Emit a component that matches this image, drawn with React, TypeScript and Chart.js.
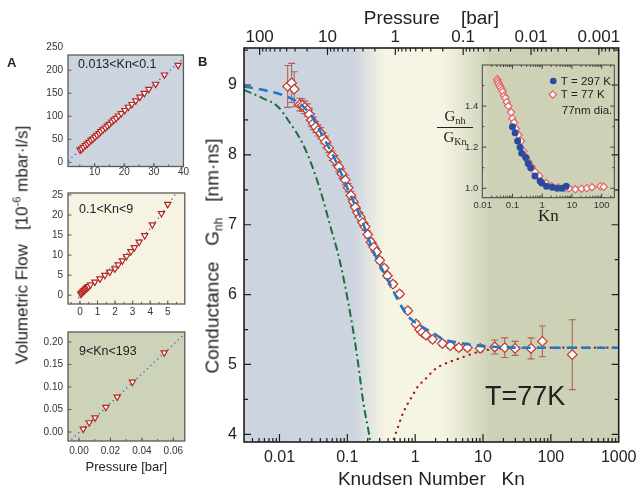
import React, { useEffect, useRef } from 'react';
import { Chart, registerables } from 'chart.js';

Chart.register(...registerables);

const SANS = '"Liberation Sans", Arial, Helvetica, sans-serif';
const SERIF = '"Liberation Serif", "Times New Roman", serif';
const INK = '#222222';

// ---------------- Panel B (main) ----------------
const knMeasured = [0.0132, 0.0151, 0.0165, 0.0200, 0.0218, 0.0235, 0.0258, 0.0275, 0.0295, 0.0315, 0.0340, 0.0370, 0.0404, 0.0440, 0.0478, 0.0530, 0.0597, 0.0660, 0.0747, 0.0830, 0.0935, 0.103, 0.113, 0.122, 0.131, 0.142, 0.155, 0.168, 0.183, 0.200, 0.223, 0.245, 0.270, 0.300, 0.350, 0.390, 0.470, 0.590, 0.780, 1.03, 1.16, 1.27, 1.44, 1.80, 2.52, 3.30, 4.40, 5.90, 9.10, 14.9, 20.9, 29.7, 51, 75, 207];
const gMeasured = [8.98, 9.03, 8.94, 8.72, 8.71, 8.68, 8.64, 8.58, 8.50, 8.45, 8.40, 8.35, 8.31, 8.24, 8.19, 8.10, 7.99, 7.92, 7.83, 7.73, 7.64, 7.53, 7.42, 7.33, 7.25, 7.17, 7.11, 7.03, 6.97, 6.86, 6.75, 6.68, 6.61, 6.49, 6.38, 6.27, 6.15, 6.01, 5.77, 5.58, 5.50, 5.46, 5.42, 5.36, 5.30, 5.27, 5.24, 5.24, 5.23, 5.25, 5.24, 5.23, 5.23, 5.33, 5.14];
const gError = [0.30, 0.28, 0.25, 0.09, 0.09, 0.09, 0.09, 0.09, 0.09, 0.09, 0.08, 0.08, 0.08, 0.08, 0.08, 0.07, 0.07, 0.07, 0.07, 0.07, 0.07, 0.06, 0.06, 0.06, 0.06, 0.06, 0.06, 0.05, 0.05, 0.05, 0.05, 0.05, 0.05, 0.04, 0.04, 0.04, 0.04, 0.04, 0.04, 0.04, 0.04, 0.04, 0.04, 0.04, 0.04, 0.04, 0.04, 0.04, 0.05, 0.10, 0.14, 0.10, 0.15, 0.22, 0.50];

const knFit = [0.003, 0.0064, 0.0125, 0.0195, 0.029, 0.0427, 0.067, 0.104, 0.164, 0.24, 0.40, 0.62, 0.82, 1.22, 1.9, 2.6, 4.4, 8.2, 16, 40, 100, 1000];
const gFit = [8.98, 8.92, 8.84, 8.74, 8.57, 8.28, 7.92, 7.49, 7.06, 6.63, 6.20, 5.84, 5.67, 5.55, 5.44, 5.36, 5.31, 5.27, 5.25, 5.24, 5.24, 5.24];

const knViscous = [0.003, 0.0057, 0.0095, 0.014, 0.022, 0.0306, 0.0427, 0.0565, 0.075, 0.104, 0.138, 0.173, 0.21, 0.22];
const gViscous = [8.93, 8.81, 8.69, 8.47, 8.16, 7.83, 7.40, 6.97, 6.54, 5.87, 5.15, 4.44, 3.99, 3.85];

const knMolecular = [0.45, 0.53, 0.66, 0.92, 1.09, 1.44, 2.0, 2.6, 4.6, 8.6, 14, 30, 100, 1000];
const gMolecular = [3.85, 4.04, 4.30, 4.56, 4.68, 4.80, 4.94, 5.00, 5.09, 5.18, 5.22, 5.235, 5.24, 5.24];

const KN_MIN = 0.003;
const KN_MAX = 1000;
const G_MIN = 3.89;
const G_MAX = 9.53;
const PRESSURE_TIMES_KN = 0.51;
const knTicks = [0.01, 0.1, 1, 10, 100, 1000];
const gTicks = [4, 5, 6, 7, 8, 9];
const pressureTicks = [100, 10, 1, 0.1, 0.01, 0.001];

// ---------------- Panel B inset ----------------
const knInset297 = [0.10, 0.123, 0.15, 0.18, 0.205, 0.28, 0.34, 0.41, 0.57, 0.85, 0.97, 1.4, 2.2, 3.2, 4.6, 6.4];
const ratioInset297 = [1.30, 1.27, 1.23, 1.20, 1.17, 1.15, 1.12, 1.10, 1.06, 1.035, 1.025, 1.01, 1.005, 1.0, 1.0, 1.01];
const knInset77 = [0.031, 0.032, 0.034, 0.037, 0.040, 0.044, 0.047, 0.052, 0.058, 0.064, 0.073, 0.090, 0.099, 0.113, 0.132, 0.158, 0.195, 0.233, 0.286, 0.34, 0.44, 0.57, 0.80, 1.35, 2.1, 3.5, 5.9, 8.0, 13, 21, 32, 47, 90, 117];
const ratioInset77 = [1.53, 1.52, 1.51, 1.50, 1.49, 1.48, 1.47, 1.45, 1.44, 1.42, 1.40, 1.37, 1.34, 1.32, 1.29, 1.26, 1.23, 1.18, 1.15, 1.13, 1.105, 1.08, 1.06, 1.025, 1.01, 1.005, 1.0, 1.0, 0.995, 0.998, 1.0, 1.005, 1.01, 1.007];
const INSET_KN_MIN = 0.0097;
const INSET_KN_MAX = 265;
const INSET_R_MIN = 0.954;
const INSET_R_MAX = 1.6;
const insetKnTicks = [0.01, 0.1, 1, 10, 100];
const insetRatioTicks = [1.0, 1.2, 1.4];
const insetRatioMinor = [1.1, 1.3, 1.5];
const insetLegend = ['T = 297 K', 'T = 77 K', '77nm dia.'];

// ---------------- Panel A ----------------
const pressureA1 = [5.1, 5.6, 6.2, 6.9, 7.5, 8.1, 8.8, 9.4, 10.1, 10.8, 11.5, 12.1, 12.8, 13.6, 14.3, 15.0, 15.8, 16.5, 17.3, 18.1, 19.0, 20.2, 21.4, 22.6, 23.9, 25.3, 26.8, 28.3, 30.6, 33.6, 38.2];
const flowA1 = [27, 29, 33, 37, 40, 44, 48, 51, 55, 59, 63, 67, 71, 75, 79, 83, 88, 92, 96, 101, 106, 113, 120, 126, 134, 142, 150, 159, 170, 190, 211];
const fitPressureA1 = [1, 41];
const fitFlowA1 = [3, 231];
const ticksXA1 = [10, 20, 30, 40];
const ticksYA1 = [0, 50, 100, 150, 200, 250];

const pressureA2 = [0.05, 0.1, 0.15, 0.2, 0.25, 0.3, 0.35, 0.4, 0.45, 0.5, 0.6, 0.85, 1.14, 1.42, 1.70, 1.99, 2.18, 2.42, 2.65, 2.90, 3.10, 3.37, 3.69, 4.12, 4.64, 5.0];
const flowA2 = [0.3, 0.5, 0.8, 1.0, 1.2, 1.4, 1.6, 1.8, 2.0, 2.2, 2.6, 3.3, 4.1, 5.0, 5.8, 6.6, 7.6, 8.6, 9.7, 10.9, 11.9, 13.3, 14.9, 17.6, 20.4, 22.7];
const fitPressureA2 = [-0.1, 1, 2, 3, 4, 5, 5.5];
const fitFlowA2 = [-0.7, 3.9, 7.7, 11.8, 16.6, 22.4, 25.6];
const ticksXA2 = [0, 1, 2, 3, 4, 5];
const ticksYA2 = [0, 5, 10, 15, 20, 25];

const pressureA3 = [0.0027, 0.0065, 0.0102, 0.0171, 0.0243, 0.034, 0.0542];
const flowA3 = [0.007, 0.021, 0.032, 0.055, 0.078, 0.111, 0.176];
const fitPressureA3 = [-0.007, 0.067];
const fitFlowA3 = [-0.024, 0.217];
const ticksXA3 = [0, 0.02, 0.04, 0.06];
const ticksYA3 = [0, 0.05, 0.1, 0.15, 0.2];

// ---------------- helpers ----------------
type Pt = { x: number; y: number };
const zip = (xs: number[], ys: number[]): Pt[] => xs.map((x, i) => ({ x, y: ys[i] }));

function logMinor(min: number, max: number): number[] {
  const out: number[] = [];
  for (let e = Math.floor(Math.log10(min)); e <= Math.ceil(Math.log10(max)); e++) {
    for (let m = 2; m <= 9; m++) {
      const v = m * Math.pow(10, e);
      if (v > min && v < max) out.push(v);
    }
  }
  return out;
}

function linMinor(min: number, max: number, step: number): number[] {
  const out: number[] = [];
  const start = Math.ceil(min / step);
  const end = Math.floor(max / step);
  for (let k = start; k <= end; k++) out.push(k * step);
  return out;
}

function fmtDecade(v: number): string {
  const e = Math.round(Math.log10(v));
  return e < 0 ? v.toFixed(-e) : String(Math.round(v));
}

type Side = 'left' | 'right' | 'top' | 'bottom';
interface TickSet { scale: string; side: Side; major: number[]; minor: number[]; majorLen: number; minorLen: number }

function framePlugin(sets: TickSet[], color: string, frameWidth: number, tickWidth: number) {
  return {
    id: 'frameTicks',
    afterDraw(chart: any) {
      const { ctx, chartArea: a } = chart;
      ctx.save();
      ctx.strokeStyle = color;
      ctx.lineWidth = tickWidth;
      ctx.beginPath();
      for (const s of sets) {
        const sc = chart.scales[s.scale];
        const put = (v: number, len: number) => {
          const p = sc.getPixelForValue(v);
          if (s.side === 'left' || s.side === 'right') {
            if (p <= a.top + 1 || p >= a.bottom - 1) return;
            const x0 = s.side === 'left' ? a.left : a.right;
            const d = s.side === 'left' ? len : -len;
            ctx.moveTo(x0, p);
            ctx.lineTo(x0 + d, p);
          } else {
            if (p <= a.left + 1 || p >= a.right - 1) return;
            const y0 = s.side === 'top' ? a.top : a.bottom;
            const d = s.side === 'top' ? len : -len;
            ctx.moveTo(p, y0);
            ctx.lineTo(p, y0 + d);
          }
        };
        s.minor.forEach((v) => put(v, s.minorLen));
        s.major.forEach((v) => put(v, s.majorLen));
      }
      ctx.stroke();
      ctx.lineWidth = frameWidth;
      ctx.strokeRect(a.left, a.top, a.right - a.left, a.bottom - a.top);
      ctx.restore();
    },
  };
}

function solidBg(color: string) {
  return {
    id: 'bg',
    beforeDraw(chart: any) {
      const { ctx, chartArea: a } = chart;
      ctx.save();
      ctx.fillStyle = color;
      ctx.fillRect(a.left, a.top, a.right - a.left, a.bottom - a.top);
      ctx.restore();
    },
  };
}

interface TextItem { text: string; dx: number; dy: number; font: string; color: string; baseline?: string; align?: string }
function textPlugin(items: TextItem[]) {
  return {
    id: 'texts',
    afterDatasetsDraw(chart: any) {
      const { ctx, chartArea: a } = chart;
      ctx.save();
      for (const t of items) {
        ctx.font = t.font;
        ctx.fillStyle = t.color;
        ctx.textBaseline = t.baseline || 'middle';
        ctx.textAlign = t.align || 'left';
        ctx.fillText(t.text, a.left + t.dx, a.top + t.dy);
      }
      ctx.restore();
    },
  };
}

const noGrid = { display: false, drawTicks: false };
const noBorder = { display: false };
const baseOptions = {
  animation: false,
  responsive: false,
  devicePixelRatio: 1,
  events: [],
  plugins: { legend: { display: false }, tooltip: { enabled: false } },
};

// ---------------- main chart ----------------
function mainConfig(): any {
  const pMin = PRESSURE_TIMES_KN / KN_MAX;
  const pMax = PRESSURE_TIMES_KN / KN_MIN;
  const bg = {
    id: 'bgGradient',
    beforeDraw(chart: any) {
      const { ctx, chartArea: a } = chart;
      const xs = chart.scales.x;
      const w = a.right - a.left;
      const f = (kn: number) => Math.min(1, Math.max(0, (xs.getPixelForValue(kn) - a.left) / w));
      const g = ctx.createLinearGradient(a.left, 0, a.right, 0);
      g.addColorStop(0, 'rgb(204,212,224)');
      g.addColorStop(f(0.12), 'rgb(204,212,224)');
      g.addColorStop(f(0.36), 'rgb(246,244,227)');
      g.addColorStop(f(2.5), 'rgb(246,244,227)');
      g.addColorStop(f(13), 'rgb(205,210,183)');
      g.addColorStop(1, 'rgb(205,210,183)');
      ctx.save();
      ctx.fillStyle = g;
      ctx.fillRect(a.left, a.top, w, a.bottom - a.top);
      ctx.restore();
    },
  };
  const errorBars = {
    id: 'errorBars',
    beforeDatasetDraw(chart: any, args: any) {
      if (args.index !== 1) return;
      const { ctx } = chart;
      const xs = chart.scales.x;
      const ys = chart.scales.y;
      ctx.save();
      ctx.strokeStyle = '#b4605a';
      ctx.lineWidth = 1.1;
      ctx.beginPath();
      knMeasured.forEach((k, i) => {
        const x = xs.getPixelForValue(k);
        const y1 = ys.getPixelForValue(gMeasured[i] + gError[i]);
        const y2 = ys.getPixelForValue(gMeasured[i] - gError[i]);
        ctx.moveTo(x, y1); ctx.lineTo(x, y2);
        ctx.moveTo(x - 3.5, y1); ctx.lineTo(x + 3.5, y1);
        ctx.moveTo(x - 3.5, y2); ctx.lineTo(x + 3.5, y2);
      });
      ctx.stroke();
      ctx.restore();
    },
  };
  return {
    type: 'scatter',
    data: {
      datasets: [
        { data: zip(knFit, gFit), showLine: true, borderColor: '#1f78c8', borderWidth: 2.6, borderDash: [9, 6], pointRadius: 0, cubicInterpolationMode: 'monotone' },
        { data: zip(knMeasured, gMeasured), showLine: false, pointStyle: 'rectRot', pointRadius: 4.8, pointBackgroundColor: '#ffffff', pointBorderColor: '#c0392b', pointBorderWidth: 1.2 },
        { data: zip(knMolecular, gMolecular), showLine: true, borderColor: '#9e1b1b', borderWidth: 2.2, borderDash: [0.3, 6], borderCapStyle: 'round', pointRadius: 0, cubicInterpolationMode: 'monotone' },
        { data: zip(knViscous, gViscous), showLine: true, borderColor: '#17703c', borderWidth: 2, borderDash: [8, 3.5, 2, 3.5], pointRadius: 0, cubicInterpolationMode: 'monotone' },
      ],
    },
    options: {
      ...baseOptions,
      layout: { padding: { left: 0, right: 19, top: 0, bottom: 0 } },
      scales: {
        x: {
          type: 'logarithmic', position: 'bottom', min: KN_MIN, max: KN_MAX,
          afterBuildTicks: (s: any) => { s.ticks = knTicks.map((value) => ({ value })); },
          afterFit: (s: any) => { s.height = 47; },
          grid: noGrid, border: noBorder,
          ticks: { callback: (v: number) => fmtDecade(v), font: { family: SANS, size: 16, lineHeight: 1 }, color: INK, padding: 7.5, autoSkip: false, maxRotation: 0 },
          title: { display: true, text: 'Knudsen Number   Kn', font: { family: SANS, size: 19, lineHeight: 1 }, color: INK, padding: { top: 0, bottom: 0 } },
        },
        xTop: {
          type: 'logarithmic', axis: 'x', position: 'top', reverse: true, min: pMin, max: pMax,
          afterBuildTicks: (s: any) => { s.ticks = pressureTicks.map((value) => ({ value })); },
          afterFit: (s: any) => { s.height = 48; },
          grid: noGrid, border: noBorder,
          ticks: { callback: (v: number) => fmtDecade(v), font: { family: SANS, size: 17, lineHeight: 1 }, color: INK, padding: 2, autoSkip: false, maxRotation: 0 },
          title: { display: true, text: 'Pressure    [bar]', font: { family: SANS, size: 19, lineHeight: 1 }, color: INK, padding: { top: 9.5, bottom: 0 } },
        },
        y: {
          type: 'linear', position: 'left', min: G_MIN, max: G_MAX,
          afterBuildTicks: (s: any) => { s.ticks = gTicks.map((value) => ({ value })); },
          afterFit: (s: any) => { s.width = 54; },
          grid: noGrid, border: noBorder,
          ticks: { callback: (v: number) => String(v), font: { family: SANS, size: 16 }, color: INK, padding: 7 },
        },
      },
    },
    plugins: [
      bg,
      errorBars,
      textPlugin([{ text: 'T=77K', dx: 241, dy: 357, font: `27px ${SANS}`, color: INK, baseline: 'alphabetic' }]),
      framePlugin([
        { scale: 'x', side: 'bottom', major: knTicks, minor: logMinor(KN_MIN, KN_MAX), majorLen: 8, minorLen: 4 },
        { scale: 'xTop', side: 'top', major: pressureTicks, minor: logMinor(pMin, pMax), majorLen: 7, minorLen: 3.5 },
        { scale: 'y', side: 'left', major: gTicks, minor: linMinor(G_MIN, G_MAX, 0.5), majorLen: 7, minorLen: 4 },
        { scale: 'y', side: 'right', major: gTicks, minor: linMinor(G_MIN, G_MAX, 0.5), majorLen: 7, minorLen: 4 },
      ], '#1e1e1e', 1.6, 1.2),
    ],
  };
}

// ---------------- inset ----------------
function insetConfig(): any {
  const legend = {
    id: 'insetLegend',
    afterDatasetsDraw(chart: any) {
      const { ctx, chartArea: a } = chart;
      ctx.save();
      ctx.fillStyle = '#2b4b9e';
      ctx.beginPath();
      ctx.arc(a.left + 71, a.top + 16, 3.3, 0, Math.PI * 2);
      ctx.fill();
      const cx = a.left + 70.5, cy = a.top + 29.5, r = 3.6;
      ctx.beginPath();
      ctx.moveTo(cx - r, cy); ctx.lineTo(cx, cy - r); ctx.lineTo(cx + r, cy); ctx.lineTo(cx, cy + r); ctx.closePath();
      ctx.fillStyle = '#ffffff';
      ctx.fill();
      ctx.strokeStyle = '#e06a6a';
      ctx.lineWidth = 1.3;
      ctx.stroke();
      ctx.fillStyle = INK;
      ctx.font = `11.5px ${SANS}`;
      ctx.textBaseline = 'middle';
      ctx.textAlign = 'left';
      ctx.fillText(insetLegend[0], a.left + 78.5, a.top + 16.5);
      ctx.fillText(insetLegend[1], a.left + 78.5, a.top + 30);
      ctx.fillText(insetLegend[2], a.left + 79.5, a.top + 45.5);
      ctx.restore();
    },
  };
  return {
    type: 'scatter',
    data: {
      datasets: [
        { data: zip(knInset297, ratioInset297), showLine: false, pointStyle: 'circle', pointRadius: 3.5, pointBackgroundColor: '#2b4b9e', pointBorderColor: '#2b4b9e', pointBorderWidth: 0 },
        { data: zip(knInset77, ratioInset77), showLine: false, pointStyle: 'rectRot', pointRadius: 3.6, pointBackgroundColor: '#ffffff', pointBorderColor: '#e06a6a', pointBorderWidth: 1.3 },
      ],
    },
    options: {
      ...baseOptions,
      layout: { padding: { left: 0, right: 10.7, top: 10, bottom: 0 } },
      scales: {
        x: {
          type: 'logarithmic', position: 'bottom', min: INSET_KN_MIN, max: INSET_KN_MAX,
          afterBuildTicks: (s: any) => { s.ticks = insetKnTicks.map((value) => ({ value })); },
          afterFit: (s: any) => { s.height = 37.3; },
          grid: noGrid, border: noBorder,
          ticks: { callback: (v: number) => fmtDecade(v), font: { family: SANS, size: 9.5, lineHeight: 1 }, color: '#333', padding: 2.8, autoSkip: false, maxRotation: 0 },
          title: { display: true, text: 'Kn', font: { family: SERIF, size: 17, lineHeight: 1 }, color: INK, padding: { top: 0, bottom: 9.5 } },
        },
        y: {
          type: 'linear', position: 'left', min: INSET_R_MIN, max: INSET_R_MAX,
          afterBuildTicks: (s: any) => { s.ticks = insetRatioTicks.map((value) => ({ value })); },
          afterFit: (s: any) => { s.width = 42.3; },
          grid: noGrid, border: noBorder,
          ticks: { callback: (v: number) => v.toFixed(1), font: { family: SANS, size: 9.5 }, color: '#333', padding: 4 },
        },
      },
    },
    plugins: [
      legend,
      framePlugin([
        { scale: 'x', side: 'bottom', major: insetKnTicks, minor: logMinor(INSET_KN_MIN, INSET_KN_MAX), majorLen: 4, minorLen: 2 },
        { scale: 'x', side: 'top', major: insetKnTicks, minor: logMinor(INSET_KN_MIN, INSET_KN_MAX), majorLen: 4, minorLen: 2 },
        { scale: 'y', side: 'left', major: insetRatioTicks, minor: insetRatioMinor, majorLen: 4, minorLen: 2 },
        { scale: 'y', side: 'right', major: insetRatioTicks, minor: insetRatioMinor, majorLen: 4, minorLen: 2 },
      ], '#444444', 1, 1),
    ],
  };
}

// ---------------- panel A ----------------
function panelAConfig(o: any): any {
  return {
    type: 'scatter',
    data: {
      datasets: [
        { data: zip(o.px, o.py), showLine: false, pointStyle: 'triangle', pointRotation: 180, pointRadius: 3.6, pointBackgroundColor: '#ffffff', pointBorderColor: '#b3261e', pointBorderWidth: 1.2 },
        { data: zip(o.fx, o.fy), showLine: true, borderColor: '#3a56c8', borderWidth: 1.3, borderDash: [1.2, 3.5], pointRadius: 0 },
      ],
    },
    options: {
      ...baseOptions,
      layout: { padding: { left: 0, right: 5, top: 15, bottom: 0 } },
      scales: {
        x: {
          type: 'linear', position: 'bottom', min: o.xMin, max: o.xMax,
          afterBuildTicks: (s: any) => { s.ticks = o.xTicks.map((value: number) => ({ value })); },
          afterFit: (s: any) => { s.height = o.xAxisH; },
          grid: noGrid, border: noBorder,
          ticks: { callback: o.fmtX, font: { family: SANS, size: 10, lineHeight: 1 }, color: '#333', padding: o.xPad, autoSkip: false, maxRotation: 0 },
          title: o.title
            ? { display: true, text: o.title, font: { family: SANS, size: 13, lineHeight: 1 }, color: INK, padding: { top: 0, bottom: 15.5 } }
            : { display: false },
        },
        y: {
          type: 'linear', position: 'left', min: o.yMin, max: o.yMax,
          afterBuildTicks: (s: any) => { s.ticks = o.yTicks.map((value: number) => ({ value })); },
          afterFit: (s: any) => { s.width = 68; },
          grid: noGrid, border: noBorder,
          ticks: { callback: o.fmtY, font: { family: SANS, size: 10 }, color: '#333', padding: 5, autoSkip: false },
        },
      },
    },
    plugins: [
      solidBg(o.bg),
      textPlugin([{ text: o.label, dx: o.labelDx, dy: o.labelDy, font: `12.5px ${SANS}`, color: INK }]),
      framePlugin([
        { scale: 'x', side: 'bottom', major: o.xTicks, minor: o.xMinor, majorLen: 3.5, minorLen: 2 },
        { scale: 'y', side: 'left', major: o.yTicks, minor: [], majorLen: 3.5, minorLen: 2 },
      ], '#5a5a5a', 1.3, 1),
    ],
  };
}

const A1 = {
  px: pressureA1, py: flowA1, fx: fitPressureA1, fy: fitFlowA1,
  xMin: 1, xMax: 40, yMin: -9, yMax: 233, xTicks: ticksXA1, yTicks: ticksYA1, xMinor: linMinor(1, 40, 5),
  fmtX: (v: number) => String(v), fmtY: (v: number) => String(v),
  xAxisH: 23.5, xPad: 1, bg: 'rgb(204,212,224)', label: '0.013<Kn<0.1', labelDx: 10, labelDy: 10,
};
const A2 = {
  px: pressureA2, py: flowA2, fx: fitPressureA2, fy: fitFlowA2,
  xMin: -0.68, xMax: 5.97, yMin: -2.2, yMax: 25.5, xTicks: ticksXA2, yTicks: ticksYA2, xMinor: linMinor(-0.68, 5.97, 0.5),
  fmtX: (v: number) => String(v), fmtY: (v: number) => String(v),
  xAxisH: 19, xPad: 3, bg: 'rgb(246,243,226)', label: '0.1<Kn<9', labelDx: 11, labelDy: 17,
};
const A3 = {
  px: pressureA3, py: flowA3, fx: fitPressureA3, fy: fitFlowA3,
  xMin: -0.007, xMax: 0.0673, yMin: -0.02, yMax: 0.222, xTicks: ticksXA3, yTicks: ticksYA3, xMinor: linMinor(-0.007, 0.0673, 0.01),
  fmtX: (v: number) => v.toFixed(2), fmtY: (v: number) => v.toFixed(2),
  xAxisH: 48, xPad: 5.5, bg: 'rgb(205,211,184)', label: '9<Kn<193', labelDx: 11, labelDy: 20, title: 'Pressure [bar]',
};

// ---------------- components ----------------
function ChartCanvas(props: { left: number; top: number; width: number; height: number; make: () => any }) {
  const ref = useRef<HTMLCanvasElement>(null);
  useEffect(() => {
    const chart = new Chart(ref.current as HTMLCanvasElement, props.make());
    return () => chart.destroy();
  }, []);
  return (
    <canvas
      ref={ref}
      width={props.width}
      height={props.height}
      style={{ position: 'absolute', left: props.left, top: props.top, width: props.width, height: props.height }}
    />
  );
}

const sub = (t: string, size: number, dy: number) => (
  <span style={{ fontSize: size, position: 'relative', top: dy }}>{t}</span>
);

export default function App() {
  return (
    <div style={{ position: 'absolute', left: 0, top: 0, width: 644, height: 489, background: '#ffffff', overflow: 'hidden', fontFamily: SANS, color: INK }}>
      <ChartCanvas left={0} top={40} width={190} height={150} make={() => panelAConfig(A1)} />
      <ChartCanvas left={0} top={178} width={190} height={145} make={() => panelAConfig(A2)} />
      <ChartCanvas left={0} top={317} width={190} height={172} make={() => panelAConfig(A3)} />
      <ChartCanvas left={190} top={0} width={454} height={489} make={mainConfig} />
      <ChartCanvas left={440} top={55} width={185} height={180} make={insetConfig} />

      <div style={{ position: 'absolute', left: 7, top: 56, fontSize: 13, fontWeight: 'bold', lineHeight: 1 }}>A</div>
      <div style={{ position: 'absolute', left: 198, top: 55, fontSize: 13, fontWeight: 'bold', lineHeight: 1 }}>B</div>

      <div style={{ position: 'absolute', left: 22, top: 245, transform: 'translate(-50%, -50%) rotate(-90deg)', whiteSpace: 'pre', fontSize: 17, lineHeight: 1 }}>
        {'Volumetric Flow   [10'}{sub('-6', 11, -7)}{' mbar·l/s]'}
      </div>

      <div style={{ position: 'absolute', left: 212, top: 256, transform: 'translate(-50%, -50%) rotate(-90deg)', whiteSpace: 'pre', fontSize: 19, lineHeight: 1 }}>
        {'Conductance   G'}{sub('nh', 12, 4)}{'   [nm·ns]'}
      </div>

      <div style={{ position: 'absolute', left: 437, top: 108, width: 36, fontFamily: SERIF, fontSize: 15, lineHeight: '17px', textAlign: 'center' }}>
        <div style={{ borderBottom: '1px solid #222', paddingBottom: 1 }}>G{sub('nh', 10, 3)}</div>
        <div style={{ paddingTop: 1 }}>G{sub('Kn', 10, 3)}</div>
      </div>
    </div>
  );
}
